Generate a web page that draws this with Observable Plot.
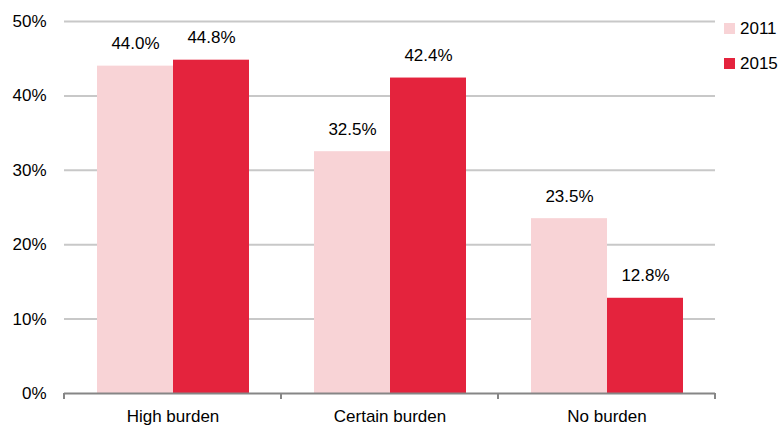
<!DOCTYPE html>
<html>
<head>
<meta charset="utf-8">
<script src="https://cdn.jsdelivr.net/npm/d3@7"></script>
<script src="https://cdn.jsdelivr.net/npm/@observablehq/plot@0.6"></script>
<style>
  body { margin: 0; background: #fff; }
  #wrap { position: relative; width: 781px; height: 426px; font-family: "Liberation Sans", Arial, sans-serif; }
  .legend { position: absolute; left: 724px; top: 11px; font-size: 17px; color: #000; }
  .legend div { display: flex; align-items: center; height: 35px; }
  .legend span.sw { display: inline-block; width: 11px; height: 11px; margin-right: 5px; }
</style>
</head>
<body>
<div id="wrap"></div>
<script>
// Share of respondents by perceived burden, 2011 vs 2015
const categories = ["High burden", "Certain burden", "No burden"];
const years = ["2011", "2015"];
const values2011 = [44.0, 32.5, 23.5];
const values2015 = [44.8, 42.4, 12.8];
const yTicks = [0, 10, 20, 30, 40, 50];
const colors = ["#f8d3d6", "#e4233d"];

const rows = categories.flatMap((c, i) => [
  {category: c, year: years[0], value: values2011[i]},
  {category: c, year: years[1], value: values2015[i]}
]);

const font = `"Liberation Sans", Arial, sans-serif`;

// small tick marks at the edges of each category group, below the baseline
function groupTicks(index, scales, values, dimensions) {
  const g = d3.create("svg:g");
  const y0 = scales.y(0);
  const {marginLeft, marginRight, width} = dimensions;
  for (const x of [marginLeft, width - marginRight]) {
    g.append("line")
      .attr("x1", x).attr("x2", x)
      .attr("y1", y0).attr("y2", y0 + 6)
      .attr("stroke", "#868686").attr("stroke-width", 2);
  }
  return g.node();
}

const chart = Plot.plot({
  width: 781,
  height: 426,
  marginLeft: 64,
  marginRight: 66,
  marginTop: 21,
  marginBottom: 33,
  style: {fontFamily: font, fontSize: "17px", color: "#000", background: "#fff"},
  fx: {domain: categories, paddingInner: 0, paddingOuter: 0, label: null},
  x: {domain: years, paddingInner: 0, paddingOuter: 0.41, axis: null},
  y: {domain: [0, 50], label: null},
  color: {domain: years, range: colors},
  marks: [
    Plot.gridY(yTicks.filter(d => d > 0), {stroke: "#c8c8c8", strokeOpacity: 1, strokeWidth: 2}),
    Plot.axisY(yTicks, {tickSize: 0, tickPadding: 18, tickFormat: d => d + "%", label: null, fontSize: 17}),
    Plot.axisFx({anchor: "bottom", tickSize: 0, tickPadding: 16, label: null, fontSize: 17}),
    Plot.barY(rows, {fx: "category", x: "year", y: "value", fill: "year"}),
    Plot.text(rows, {fx: "category", x: "year", y: "value", text: d => d.value.toFixed(1) + "%", lineAnchor: "bottom", dy: -17, fontSize: 17, fill: "#000"}),
    Plot.ruleY([0], {stroke: "#868686", strokeWidth: 2}),
    groupTicks
  ]
});

const wrap = document.getElementById("wrap");
wrap.appendChild(chart);

const legend = d3.select(wrap).append("div").attr("class", "legend");
years.forEach((y, i) => {
  const row = legend.append("div");
  row.append("span").attr("class", "sw").style("background", colors[i]);
  row.append("span").text(y);
});
</script>
</body>
</html>
